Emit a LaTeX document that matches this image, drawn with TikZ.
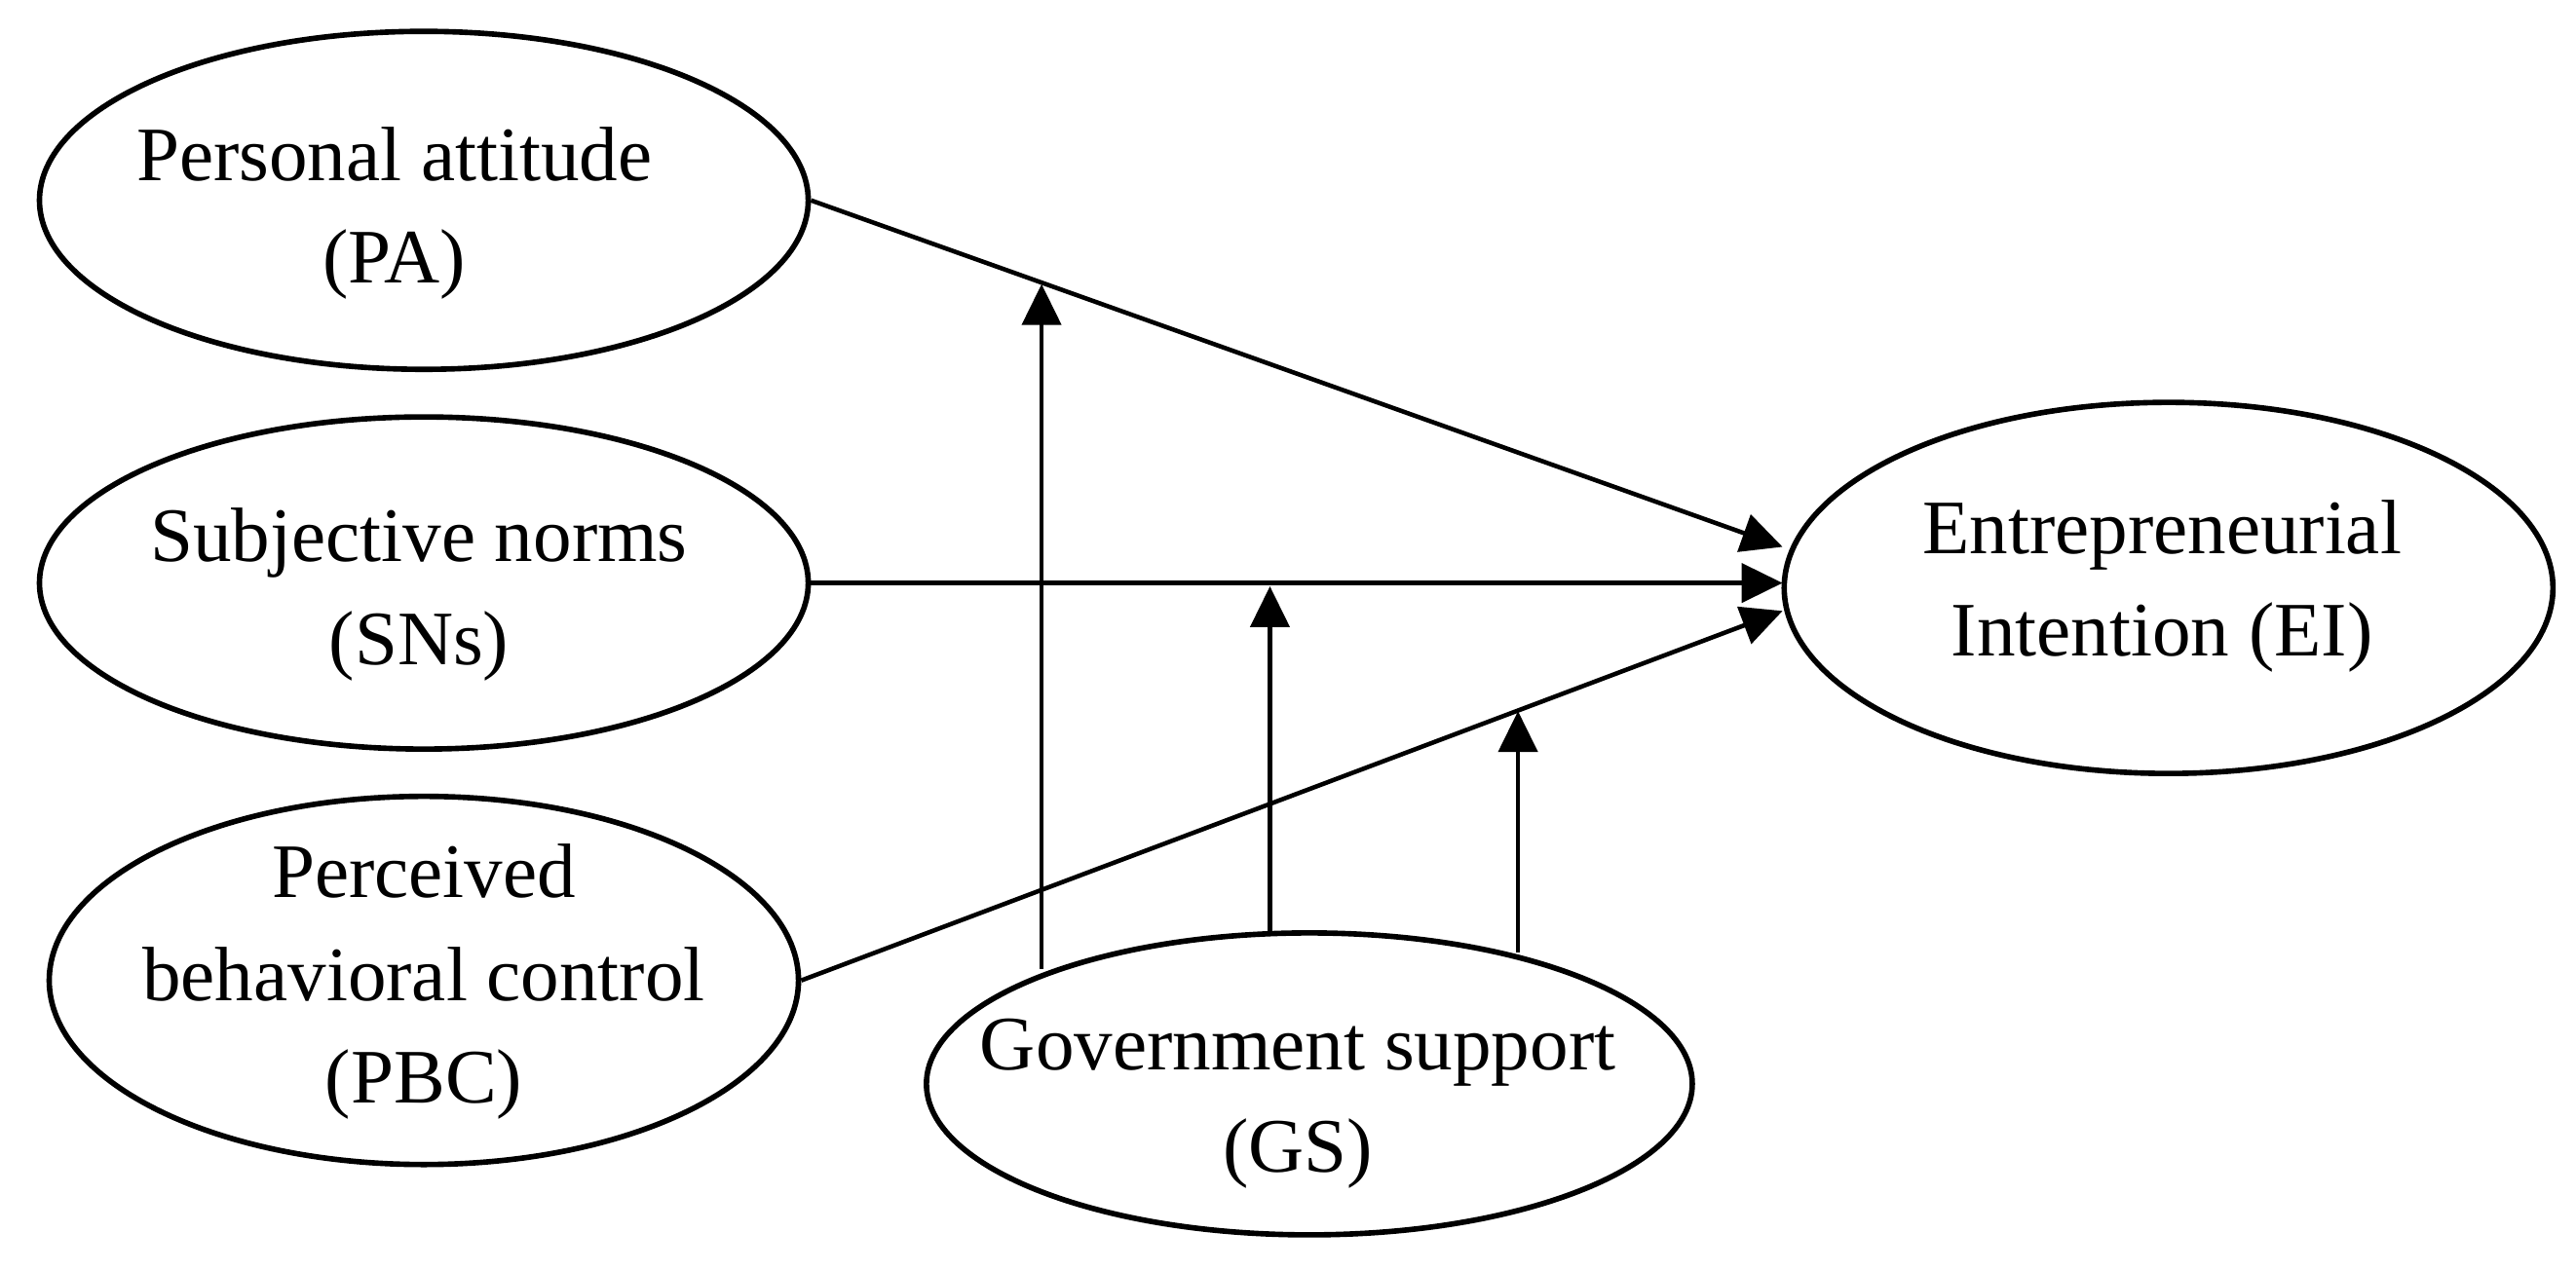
\documentclass[tikz,border=0pt]{standalone}
\usepackage{fontspec}
\setmainfont{Liberation Serif}
\usetikzlibrary{arrows.meta,shapes.geometric}
\begin{document}
\begin{tikzpicture}[x=0.016862cm,y=-0.016862cm,
  lv/.style={ellipse,draw,line width=1.6pt,inner sep=0pt},
  tx/.style={align=center,inner sep=0pt,font=\fontsize{22.5}{30}\selectfont},
  ar/.style={line width=1.3pt,-{Triangle[length=0.42cm,width=0.4cm]}}]
\useasboundingbox (0,0) rectangle (1568,773);
\node[lv,minimum width=7.89cm,minimum height=3.47cm] (PA) at (258,122) {};
\node[lv,minimum width=7.89cm,minimum height=3.41cm] (SN) at (258,355) {};
\node[lv,minimum width=7.69cm,minimum height=3.78cm] (PBC) at (258,597) {};
\node[lv,minimum width=7.86cm,minimum height=3.10cm] (GS) at (797,660) {};
\node[lv,minimum width=7.89cm,minimum height=3.81cm] (EI) at (1320,358) {};
\node[tx] (tPA) at (240,130) {Personal attitude\\(PA)};
\node[tx] (tSN) at (255,362) {Subjective norms\\(SNs)};
\node[tx] (tPBC) at (258,598) {Perceived\\behavioral control\\(PBC)};
\node[tx] (tGS) at (790,672) {Government support\\(GS)};
\node[tx] (tEI) at (1316,357) {Entrepreneurial\\Intention (EI)};
\coordinate (e1) at (1085,333);
\coordinate (e2) at (1085,355);
\coordinate (e3) at (1085,372);
\coordinate (g1) at (634,590);
\coordinate (t1) at (634,173);
\coordinate (g2) at (773,568);
\coordinate (t2) at (773,357);
\coordinate (g3) at (924,580);
\coordinate (t3) at (924,433);
\draw[ar] (PA.east) -- (e1);
\draw[ar] (SN.east) -- (e2);
\draw[ar] (PBC.east) -- (e3);
\draw[ar] (g1) -- (t1);
\draw[ar] (g2) -- (t2);
\draw[ar] (g3) -- (t3);
\end{tikzpicture}
\end{document}
